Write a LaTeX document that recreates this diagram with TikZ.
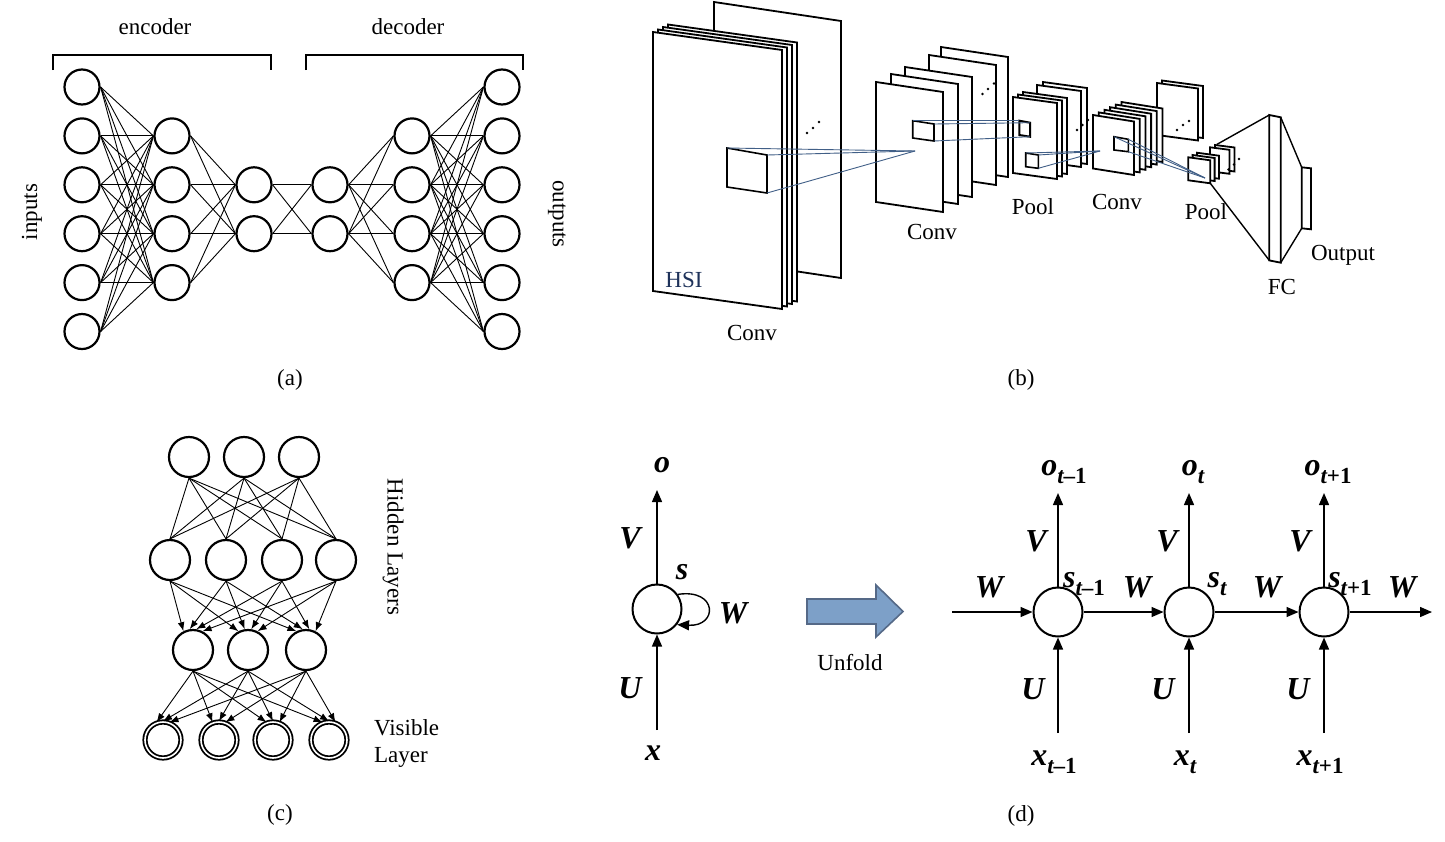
\documentclass[tikz,border=0pt]{standalone}
\usepackage{fontspec}
\setmainfont{Liberation Serif}
\usetikzlibrary{arrows.meta}

\definecolor{rfline}{RGB}{65,95,135}
\definecolor{hsiblue}{RGB}{30,50,90}
\definecolor{unfoldfill}{RGB}{125,160,200}
\definecolor{unfolddraw}{RGB}{85,105,135}

\newcommand{\fmap}[5]{\draw[fmapbox] (#1,#2) -- ++(#3,#5) -- ++(0,#4) -- ++(-#3,-#5) -- cycle;}
\newcommand{\tsub}[2]{#1\raisebox{-0.55ex}{\fontsize{11.5}{11.5}\selectfont\textit{t}{\upshape #2}}}

\tikzset{
  neuron/.style={circle,draw,line width=1.1pt,minimum size=17.5pt,inner sep=0pt},
  rbmnode/.style={circle,draw,line width=1.1pt,minimum size=20pt,inner sep=0pt},
  visnode/.style={circle,draw,double,line width=0.9pt,double distance=0.8pt,minimum size=18pt,inner sep=0pt},
  cell/.style={circle,draw,line width=1pt,minimum size=24.5pt,inner sep=0pt},
  conn/.style={line width=0.45pt},
  rbmarrow/.style={line width=0.45pt,-{Latex[length=4.5pt,width=3.4pt]}},
  rnnarrow/.style={line width=0.7pt,-{Triangle[length=6pt,width=5pt]}},
  fmapbox/.style={draw,fill=white,line width=0.9pt},
  cubebox/.style={draw,line width=0.8pt},
  rfedge/.style={rfline,line width=0.45pt},
  rnnlbl/.style={font=\fontsize{16}{18}\selectfont\bfseries\itshape},
}

\begin{document}
\begin{tikzpicture}[x=0.5pt,y=-0.5pt,>=latex,every node/.style={font=\fontsize{11.5}{13.5}\selectfont}]
\useasboundingbox (0,0) rectangle (1445,841);

\foreach \i in {1,...,6} \node[neuron] (in\i) at (82,{87+48.9*(\i-1)}) {};
\foreach \i in {2,...,5} \node[neuron] (ea\i) at (172,{87+48.9*(\i-1)}) {};
\foreach \i in {3,4} \node[neuron] (eb\i) at (254,{87+48.9*(\i-1)}) {};
\foreach \i in {3,4} \node[neuron] (db\i) at (330,{87+48.9*(\i-1)}) {};
\foreach \i in {2,...,5} \node[neuron] (da\i) at (412,{87+48.9*(\i-1)}) {};
\foreach \i in {1,...,6} \node[neuron] (out\i) at (502,{87+48.9*(\i-1)}) {};

\foreach \i in {1,...,6} \foreach \j in {2,...,5} \draw[conn] (in\i.east) -- (ea\j.west);
\foreach \i in {2,...,5} \foreach \j in {3,4} \draw[conn] (ea\i.east) -- (eb\j.west);
\foreach \i in {3,4} \foreach \j in {3,4} \draw[conn] (eb\i.east) -- (db\j.west);
\foreach \i in {3,4} \foreach \j in {2,...,5} \draw[conn] (db\i.east) -- (da\j.west);
\foreach \i in {2,...,5} \foreach \j in {1,...,6} \draw[conn] (da\i.east) -- (out\j.west);

\node (enc) at (155,27) {encoder};
\node (dec) at (408,27) {decoder};
\draw[line width=0.6pt] (53,70) -- (53,55) -- (271,55) -- (271,70);
\draw[line width=0.6pt] (306,70) -- (306,55) -- (523,55) -- (523,70);
\node[rotate=90] (inlbl) at (32,212) {inputs};
\node[rotate=-90] (outlbl) at (557,214) {outputs};
\node (capa) at (290,380) {(a)};

\fmap{714}{2}{127}{257}{19}
\foreach \k in {3,2,1,0} {\fmap{653+5*\k}{32-2.5*\k}{129}{259}{18}}
\foreach \p in {(807,133),(813,128),(819,122)} \fill \p circle (0.7pt);
\coordinate (h1) at (727,148); \coordinate (h2) at (767,155);
\coordinate (h3) at (767,193); \coordinate (h4) at (727,187);
\draw[cubebox] (h1) -- (h2) -- (h3) -- (h4) -- cycle;

\foreach \dx/\dy in {65/-35,53/-27,29/-15,15/-8,0/0} {\fmap{876+\dx}{82+\dy}{67}{120}{10}}
\foreach \p in {(982.5,94),(988,89),(994,83.5)} \fill \p circle (0.7pt);
\coordinate (p1) at (912.7,120.7); \coordinate (p2) at (934,124);
\coordinate (p3) at (934,141); \coordinate (p4) at (912.7,138);
\draw[cubebox] (p1) -- (p2) -- (p3) -- (p4) -- cycle;
\coordinate (ap1) at (915,151);

\foreach \dx/\dy in {30/-15,24/-12,10/-5,5/-2.5,0/0} {\fmap{1013+\dx}{97+\dy}{44}{76}{6}}
\foreach \p in {(1077,130),(1082.5,125),(1088,120)} \fill \p circle (0.7pt);
\coordinate (q1) at (1019.3,120.7); \coordinate (q2) at (1030,122.7);
\coordinate (q3) at (1030,136.7); \coordinate (q4) at (1019.3,135);
\draw[cubebox,line width=1pt] (q1) -- (q2) -- (q3) -- (q4) -- cycle;
\coordinate (r1) at (1025.7,153); \coordinate (r2) at (1038.3,155);
\coordinate (r3) at (1038.3,168.3); \coordinate (r4) at (1025.7,166.7);
\draw[cubebox] (r1) -- (r2) -- (r3) -- (r4) -- cycle;

\fmap{1162}{80.5}{41}{52}{5.5}
\fmap{1157}{83}{41}{52}{5.5}
\foreach \p in {(1177,130),(1183,125),(1189,121)} \fill \p circle (0.7pt);
\foreach \k in {5,4,3,2,1,0} {\fmap{1093+5.7*\k}{115-2.6*\k}{41}{53.5}{6.5}}
\coordinate (u1) at (1114,136.7); \coordinate (u2) at (1128.3,139.3);
\coordinate (u3) at (1128.3,151.7); \coordinate (u4) at (1114,150);
\draw[cubebox] (u1) -- (u2) -- (u3) -- (u4) -- cycle;
\coordinate (ap2) at (1100,151);

\fmap{1215}{145}{19.5}{24}{2.5}
\fmap{1210}{147.3}{19.5}{24}{2.5}
\foreach \p in {(1239,159),(1234,164.5),(1228.5,169.5)} \fill \p circle (0.7pt);
\foreach \k in {2,1,0} {\fmap{1188.3+4.3*\k}{157.3-2.3*\k}{22}{23}{3}}
\coordinate (ap3) at (1205,178);
\coordinate (pb) at (1216.7,144.5); \coordinate (pf) at (1210.3,183.3);

\fmap{1269.3}{115}{11.4}{145.4}{2.3}
\coordinate (fc1) at (1269.3,115); \coordinate (fc2) at (1280.7,117.3);
\coordinate (fc3) at (1280.7,262.7); \coordinate (fc4) at (1269.3,260.4);
\fmap{1301.7}{167.3}{9.3}{61}{1}
\coordinate (op1) at (1301.7,167.3); \coordinate (op4) at (1301.7,228.3);

\foreach \c in {h1,h2,h3} \draw[rfedge] (\c) -- (ap1);
\draw[rfedge] (p1) -- (q1);
\draw[rfedge] (p2) -- (q2);
\draw[rfedge] (p3) -- (q3);
\foreach \c in {r1,r2,r3} \draw[rfedge] (\c) -- (ap2);
\foreach \c in {u1,u2,u3} \draw[rfedge] (\c) -- (ap3);
\draw[line width=0.7pt] (pb) -- (fc1);
\draw[line width=0.7pt] (pf) -- (fc4);
\draw[line width=0.7pt] (fc2) -- (op1);
\draw[line width=0.7pt] (fc3) -- (op4);

\node[text=hsiblue] (hsi) at (684,280) {HSI};
\node (conva) at (752,333) {Conv};
\node (convb) at (932,232) {Conv};
\node (poola) at (1033,207) {Pool};
\node (convc) at (1117,202) {Conv};
\node (poolb) at (1206,212) {Pool};
\node (fc) at (1282,287) {FC};
\node (outp) at (1343,255) {Output};
\node (capb) at (1021,380) {(b)};

\foreach \x [count=\i] in {189,244,299} \node[rbmnode] (ct\i) at (\x,457) {};
\foreach \x [count=\i] in {170,226,282,336} \node[rbmnode] (cm\i) at (\x,560) {};
\foreach \x [count=\i] in {193,248,306} \node[rbmnode] (cb\i) at (\x,650) {};
\foreach \x [count=\i] in {163,219,273,329} \node[visnode] (cv\i) at (\x,740) {};

\foreach \i in {1,2,3} \foreach \j in {1,...,4} \draw[conn] (ct\i.south) -- (cm\j.north);
\foreach \i [evaluate=\i as \ang using int(90+(2.5-\i)*18)] in {1,...,4}
  \foreach \j in {1,2,3} \draw[rbmarrow] (cm\i.south) -- (cb\j.\ang);
\foreach \i [evaluate=\i as \ang using int(90+(2-\i)*20)] in {1,2,3}
  \foreach \j in {1,...,4} \draw[rbmarrow] (cb\i.south) -- (cv\j.\ang);

\node[rotate=-90] (hid) at (393,547) {Hidden Layers};
\node[align=left,anchor=west] (vis) at (367,743) {Visible\\Layer};
\node (capc) at (280,815) {(c)};

\node[cell] (s0) at (657,609) {};
\coordinate (o0) at (657,490);
\coordinate (x0) at (657,730);
\draw[rnnarrow] (s0) -- (o0);
\draw[rnnarrow] (x0) -- (s0);
\draw[rnnarrow] (s0.35) .. controls +(40,-6) and +(41,2) .. (s0.-38);
\node[rnnlbl] at (662,465) {o};
\node[rnnlbl] at (630,538) {V};
\node[rnnlbl] at (682,572) {s};
\node[rnnlbl] at (733,613) {W};
\node[rnnlbl] at (630,688) {U};
\node[rnnlbl] at (653,753) {x};

\draw[unfolddraw,fill=unfoldfill,line width=0.8pt] (807,599) -- (876,599) -- (876,585) -- (903,611.5)
  -- (876,637) -- (876,624) -- (807,624) -- cycle;
\node (unf) at (850,663) {Unfold};

\foreach \x [count=\i] in {1058,1189,1324} {
  \node[cell] (st\i) at (\x,612) {};
  \coordinate (ot\i) at (\x,493);
  \coordinate (xt\i) at (\x,733);
}
\coordinate (win) at (952,612);
\coordinate (wout) at (1432,612);
\draw[rnnarrow] (win) -- (st1);
\draw[rnnarrow] (st1) -- (st2);
\draw[rnnarrow] (st2) -- (st3);
\draw[rnnarrow] (st3) -- (wout);
\foreach \i in {1,2,3} {
  \draw[rnnarrow] (st\i) -- (ot\i);
  \draw[rnnarrow] (xt\i) -- (st\i);
}

\node[rnnlbl] at (1064,472) {\tsub{o}{–1}};
\node[rnnlbl] at (1193,472) {\tsub{o}{}};
\node[rnnlbl] at (1328,472) {\tsub{o}{+1}};
\foreach \x in {1036,1167,1300} \node[rnnlbl] at (\x,541) {V};
\node[rnnlbl] at (1084,584) {\tsub{s}{–1}};
\node[rnnlbl] at (1217,584) {\tsub{s}{}};
\node[rnnlbl] at (1350,584) {\tsub{s}{+1}};
\foreach \x in {989,1137,1267,1402} \node[rnnlbl] at (\x,587) {W};
\foreach \x in {1033,1163,1298} \node[rnnlbl] at (\x,689) {U};
\node[rnnlbl] at (1054,762) {\tsub{x}{–1}};
\node[rnnlbl] at (1185,762) {\tsub{x}{}};
\node[rnnlbl] at (1320,762) {\tsub{x}{+1}};
\node (capd) at (1021,816) {(d)};

\end{tikzpicture}
\end{document}
